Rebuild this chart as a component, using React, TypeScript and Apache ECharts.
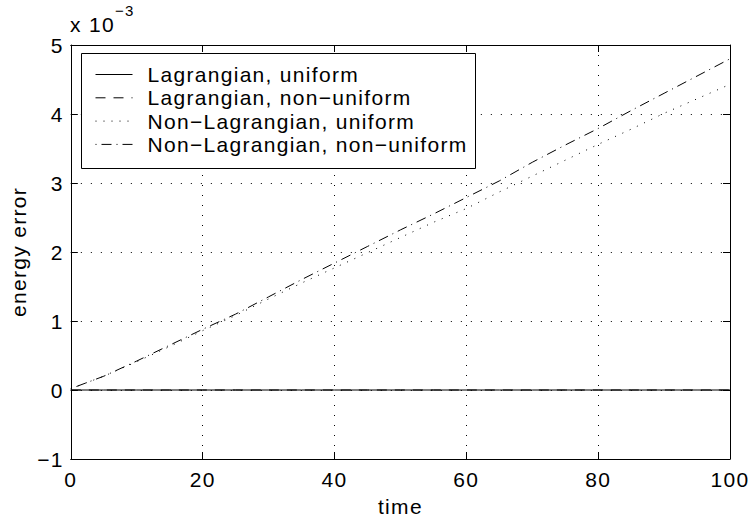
import React, { useEffect, useRef } from "react";
import * as echarts from "echarts";

const time = [0, 5, 10, 15, 20, 25, 30, 35, 40, 45, 50, 55, 60, 65, 70, 75, 80, 85, 90, 95, 100];
const lagrangianUniform = [0, 0, 0, 0, 0, 0, 0, 0, 0, 0, 0, 0, 0, 0, 0, 0, 0, 0, 0, 0, 0];
const lagrangianNonUniform = [0, 0, 0, 0, 0, 0, 0, 0, 0, 0, 0, 0, 0, 0, 0, 0, 0, 0, 0, 0, 0];
const nonLagrangianUniform = [0.02, 0.2, 0.41, 0.63, 0.86, 1.08, 1.32, 1.55, 1.77, 1.99, 2.21, 2.43, 2.63, 2.87, 3.1, 3.33, 3.56, 3.78, 4.01, 4.22, 4.43];
const nonLagrangianNonUniform = [0.02, 0.2, 0.42, 0.65, 0.88, 1.1, 1.35, 1.6, 1.84, 2.08, 2.32, 2.55, 2.79, 3.03, 3.3, 3.55, 3.79, 4.05, 4.3, 4.55, 4.8];

const seriesNames = [
  "Lagrangian, uniform",
  "Lagrangian, non\u2212uniform",
  "Non\u2212Lagrangian, uniform",
  "Non\u2212Lagrangian, non\u2212uniform",
];
const xTicks = { min: 0, max: 100, interval: 20 };
const yTicks = { min: -1, max: 5, interval: 1 };

const FONT = "'Liberation Sans', Arial, Helvetica, sans-serif";
const FS = 21;

export default function App() {
  const ref = useRef<HTMLDivElement>(null);
  useEffect(() => {
    if (!ref.current) return;
    const chart = echarts.init(ref.current, undefined, { renderer: "svg" });
    const pair = (ys: number[]) => time.map((t, i) => [t, ys[i]]);
    const dashes: any[] = ["solid", [10, 8], [1, 7], [1, 5, 10, 5]];
    const datas = [lagrangianUniform, lagrangianNonUniform, nonLagrangianUniform, nonLagrangianNonUniform];
    const fmt = (v: number) => (v < 0 ? "\u2212" + Math.abs(v) : String(v));
    const axisCommon = {
      axisLine: { show: true, onZero: false, lineStyle: { color: "#000", width: 1 } },
      axisTick: { show: true, inside: true, length: 7, lineStyle: { color: "#000" } },
    };
    chart.setOption({
      animation: false,
      backgroundColor: "#fff",
      textStyle: { fontFamily: FONT },
      grid: { left: 70, right: 21, top: 45, bottom: 64, containLabel: false },
      graphic: [
        { type: "text", left: 70, top: 14, style: { text: "x 10", font: `${FS}px ${FONT}`, fill: "#000" } },
        { type: "text", left: 115, top: 3, style: { text: "\u22123", font: `15px ${FONT}`, fill: "#000" } },
        {
          type: "rect",
          left: 81,
          top: 53,
          z: 10,
          shape: { x: 0, y: 0, width: 394, height: 115 },
          style: { fill: "#fff", stroke: "#000", lineWidth: 1 },
        },
      ],
      legend: {
        show: true,
        z: 20,
        orient: "vertical",
        left: 81,
        top: 53,
        padding: [10, 9, 10, 14],
        itemWidth: 37,
        itemHeight: 13,
        itemGap: 0.3,
        backgroundColor: "transparent",
        borderWidth: 0,
        itemStyle: { opacity: 0 },
        lineStyle: { width: 1 },
        textStyle: { fontSize: FS, color: "#000", fontFamily: FONT, lineHeight: 23, padding: [0, 0, 0, 10] },
        data: seriesNames,
      },
      xAxis: [
        {
          type: "value",
          position: "bottom",
          ...xTicks,
          ...axisCommon,
          axisLabel: { color: "#000", fontSize: FS, margin: 10, fontFamily: FONT },
          splitLine: { show: true, lineStyle: { color: "#000", width: 1, type: [1, 9] } },
          name: "time",
          nameLocation: "middle",
          nameGap: 37,
          nameTextStyle: { color: "#000", fontSize: FS, fontFamily: FONT },
        },
        {
          type: "value",
          position: "top",
          ...xTicks,
          ...axisCommon,
          axisLabel: { show: false },
          splitLine: { show: false },
        },
      ],
      yAxis: [
        {
          type: "value",
          position: "left",
          ...yTicks,
          ...axisCommon,
          axisLabel: { color: "#000", fontSize: FS, margin: 7, fontFamily: FONT, formatter: fmt },
          splitLine: { show: true, lineStyle: { color: "#000", width: 1, type: [1, 9] } },
          name: "energy error",
          nameLocation: "middle",
          nameGap: 41,
          nameTextStyle: { color: "#000", fontSize: FS, fontFamily: FONT },
        },
        {
          type: "value",
          position: "right",
          ...yTicks,
          ...axisCommon,
          axisLabel: { show: false },
          splitLine: { show: false },
        },
      ],
      series: seriesNames.map((name, i) => ({
        name,
        type: "line",
        xAxisIndex: 0,
        yAxisIndex: 0,
        data: pair(datas[i]),
        symbol: "none",
        showSymbol: false,
        color: "#000",
        lineStyle: { color: "#000", width: 1, type: dashes[i] },
        emphasis: { disabled: true },
        z: 3,
      })),
    });
    return () => chart.dispose();
  }, []);
  return (
    <div
      ref={ref}
      style={{ width: 751, height: 523, position: "absolute", left: 0, top: 0, letterSpacing: "1.3px" }}
    />
  );
}
